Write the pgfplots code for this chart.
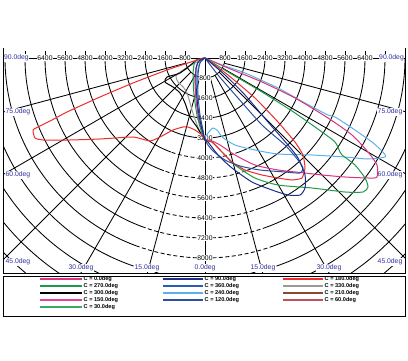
\documentclass[border=0pt]{standalone}
\usepackage{pgfplots}
\pgfplotsset{compat=1.18}
\usepackage{fontspec}
\setmainfont{Liberation Sans}
\definecolor{cMag}{HTML}{D9327F}
\definecolor{cGreen}{HTML}{1E9A4B}
\definecolor{cGreenL}{HTML}{3DAA63}
\definecolor{cPink}{HTML}{E6409B}
\definecolor{cNavy}{HTML}{1C2E8C}
\definecolor{cBlue}{HTML}{2B5CB3}
\definecolor{cLBlue}{HTML}{5FB0E8}
\definecolor{cBlueII}{HTML}{2F4E9E}
\definecolor{cRed}{HTML}{EE2B2B}
\definecolor{cGray}{HTML}{999999}
\definecolor{cBrown}{HTML}{8B4A2E}
\definecolor{cRose}{HTML}{C24E62}
\definecolor{cLbl}{HTML}{2E2E9E}
\newcommand\lblfont{\fontsize{6.8}{7}\selectfont}
\newcommand\legfont{\bfseries\fontsize{5.6}{6}\selectfont}
\begin{document}
\begin{tikzpicture}[x=1pt,y=1pt]
\useasboundingbox (0,0) rectangle (408,360);
% ---------- grid ----------
\begin{scope}
\clip (3,87) rectangle (405,302);
\foreach \k in {1,...,4}{
  \pgfmathsetmacro\r{20*\k}
  \draw[line width=0.85pt] (205,302) ++(0:\r pt) arc[start angle=0,end angle=-180,radius=\r pt];
}
\foreach \k in {5,...,15}{
  \pgfmathsetmacro\r{20*\k}
  \draw[line width=0.85pt] (205,302) ++(0:\r pt) arc[start angle=0,end angle=-70,radius=\r pt];
  \draw[line width=0.85pt,dash pattern=on 4pt off 2.5pt] (205,302) ++(-70:\r pt) arc[start angle=-70,end angle=-110,radius=\r pt];
  \draw[line width=0.85pt] (205,302) ++(-110:\r pt) arc[start angle=-110,end angle=-180,radius=\r pt];
}
\foreach \a in {-15,-30,-45,-60,-75,-105,-120,-135,-150,-165}{
  \draw[line width=0.85pt] (205,302) ++(\a:20pt) -- ++(\a:400pt);
}
\draw[line width=0.85pt] (205,302) -- (205,87);
\end{scope}
\draw[line width=0.85pt] (3,302) -- (405,302);
\foreach \k in {1,...,9}{
  \draw[line width=0.7pt] (205+20*\k,302) -- ++(0,7);
  \draw[line width=0.7pt] (205-20*\k,302) -- ++(0,7);
}
\draw[line width=0.9pt] (3,312) -- (3,87) -- (405,87) -- (405,312);
% ---------- intensity labels ----------
\foreach \k in {1,...,8}{
  \pgfmathtruncatemacro\v{800*\k}
  \node[fill=white,inner sep=0.5pt,font=\lblfont] at (205-20*\k,302) {\v};
  \node[fill=white,inner sep=0.5pt,font=\lblfont] at (205+20*\k,302) {\v};
}
\foreach \k in {1,...,10}{
  \pgfmathtruncatemacro\v{800*\k}
  \node[fill=white,inner sep=0.5pt,font=\lblfont] at (205,302-20*\k) {\v};
}
% ---------- angle labels ----------
\node[fill=white,inner sep=0.5pt,anchor=west,text=cLbl,font=\lblfont] at (3.5,302) {90.0deg};
\node[fill=white,inner sep=0.5pt,anchor=east,text=cLbl,font=\lblfont] at (404.5,302) {90.0deg};
\node[fill=white,inner sep=0.5pt,anchor=west,text=cLbl,font=\lblfont] at (5,248) {75.0deg};
\node[fill=white,inner sep=0.5pt,anchor=east,text=cLbl,font=\lblfont] at (403,248) {75.0deg};
\node[fill=white,inner sep=0.5pt,anchor=west,text=cLbl,font=\lblfont] at (5,185) {60.0deg};
\node[fill=white,inner sep=0.5pt,anchor=east,text=cLbl,font=\lblfont] at (403,185) {60.0deg};
\node[fill=white,inner sep=0.5pt,anchor=west,text=cLbl,font=\lblfont] at (5,98) {45.0deg};
\node[fill=white,inner sep=0.5pt,anchor=east,text=cLbl,font=\lblfont] at (403,98) {45.0deg};
\node[fill=white,inner sep=0.5pt,text=cLbl,font=\lblfont] at (81,92) {30.0deg};
\node[fill=white,inner sep=0.5pt,text=cLbl,font=\lblfont] at (329,92) {30.0deg};
\node[fill=white,inner sep=0.5pt,text=cLbl,font=\lblfont] at (147,92) {15.0deg};
\node[fill=white,inner sep=0.5pt,text=cLbl,font=\lblfont] at (263,92) {15.0deg};
\node[fill=white,inner sep=0.5pt,text=cLbl,font=\lblfont] at (205,92) {0.0deg};
% ---------- curves ----------
\begin{axis}[at={(3pt,87pt)},anchor=south west,scale only axis,
  width=402pt,height=225pt,xmin=-8080,xmax=8000,ymin=-8600,ymax=400,
  hide axis,clip=false]
\addplot[cGray,line width=1pt,smooth,tension=0.4] coordinates {(0,0) (-400,-200) (-880,-480) (-1160,-720) (-1080,-960) (-840,-1200) (-680,-1520) (-520,-2080) (-360,-2560) (-200,-2960) (0,-3280)};
\addplot[black,line width=1pt,smooth,tension=0.4] coordinates {(0,0) (-320,-80) (-1000,-600) (-1520,-760) (-1600,-960) (-1280,-1160) (-1000,-1400) (-800,-1800) (-600,-2360) (-320,-2760) (-200,-2960) (0,-3280)};
\addplot[cLBlue,line width=1pt,smooth,tension=0.4] coordinates {(0,0) (-200,-160) (-320,-680) (-320,-1680) (-240,-2480) (-120,-3000) (0,-3160) (120,-3000) (320,-2800) (520,-2920) (680,-3160) (1200,-3480) (2000,-3680) (2920,-3840) (4280,-3880) (5600,-3960) (6520,-4040) (7200,-3960) (7120,-3760) (6680,-3360) (5880,-2800) (5200,-2360) (4920,-2280) (4000,-1800) (2920,-1200) (1600,-600) (680,-280) (0,0)};
\addplot[cMag,line width=1pt,smooth,tension=0.4] coordinates {(0,0) (-280,-160) (-400,-800) (-360,-1680) (-240,-2480) (-80,-3000) (0,-3280) (200,-3280) (600,-3480) (1200,-3880) (2000,-4280) (2920,-4480) (4000,-4600) (4680,-4680) (5600,-4760) (6520,-4800) (6880,-4760) (6880,-4280) (6520,-3760) (5880,-3080) (4920,-2400) (3600,-1600) (2280,-960) (920,-400) (0,0)};
\addplot[cGreen,line width=1pt,smooth,tension=0.4] coordinates {(0,0) (-360,-80) (-440,-280) (-480,-680) (-440,-1480) (-320,-2280) (-160,-2880) (0,-3280) (280,-3360) (680,-3760) (1200,-4280) (2000,-4800) (2920,-5080) (4280,-5200) (5600,-5360) (6320,-5360) (6520,-5160) (6400,-4800) (6000,-4280) (5480,-3880) (5400,-3760) (5200,-3360) (4680,-2960) (3600,-2200) (2280,-1360) (920,-560) (0,0)};
\addplot[cRed,line width=1pt,smooth,tension=0.3] coordinates {(0,0) (-320,-80) (-1520,-480) (-2880,-1000) (-4200,-1560) (-5520,-2160) (-6120,-2480) (-6600,-2720) (-6880,-2880) (-6800,-3200) (-6480,-3280) (-5400,-3280) (-4200,-3240) (-2880,-3160) (-2200,-3320) (-1800,-3160) (-1280,-2880) (-880,-2760) (-680,-2760) (-400,-2880) (-120,-3080) (0,-3280) (280,-3360) (680,-3760) (1080,-4160) (1600,-4480) (2280,-4680) (2920,-4800) (3480,-4880) (3880,-4800) (4000,-4400) (3920,-3880) (3600,-3360) (2920,-2560) (2000,-1600) (920,-680) (0,0)};
\addplot[cBlueII,line width=1pt,smooth,tension=0.4] coordinates {(0,0) (-200,-200) (-280,-680) (-280,-1480) (-200,-2280) (-80,-2880) (0,-3280) (280,-3680) (800,-4080) (1400,-4320) (2200,-4480) (3200,-4560) (3800,-4600) (3920,-4400) (3720,-4080) (3200,-3480) (2280,-2680) (1320,-1600) (520,-680) (0,0)};
\addplot[cNavy,line width=1pt,smooth,tension=0.4] coordinates {(0,0) (-240,-120) (-360,-400) (-360,-1080) (-280,-2000) (-160,-2680) (0,-3280) (120,-3360) (520,-3880) (1080,-4400) (1880,-4960) (2680,-5280) (3320,-5480) (3800,-5480) (4000,-5200) (4000,-4680) (3720,-4000) (3320,-3480) (2520,-2560) (1600,-1480) (800,-680) (0,0)};
\end{axis}
% ---------- legend ----------
\draw[line width=0.9pt] (3,84) rectangle (405,44);
\foreach \y/\c/\t in {81/cMag/0.0, 74/cGreen/270.0, 67/black/300.0, 60/cPink/150.0, 53/cGreenL/30.0}{
  \draw[\c,line width=1.3pt] (40,\y) -- (82,\y);
  \node[anchor=west,inner sep=0.5pt,font=\legfont] at (83,\y) {C = \t deg};
}
\foreach \y/\c/\t in {81/cNavy/90.0, 74/cBlue/360.0, 67/cLBlue/240.0, 60/cBlueII/120.0}{
  \draw[\c,line width=1.3pt] (163,\y) -- (203,\y);
  \node[anchor=west,inner sep=0.5pt,font=\legfont] at (204,\y) {C = \t deg};
}
\foreach \y/\c/\t in {81/cRed/180.0, 74/cGray/330.0, 67/cBrown/210.0, 60/cRose/60.0}{
  \draw[\c,line width=1.3pt] (283,\y) -- (323,\y);
  \node[anchor=west,inner sep=0.5pt,font=\legfont] at (324,\y) {C = \t deg};
}
\end{tikzpicture}
\end{document}
